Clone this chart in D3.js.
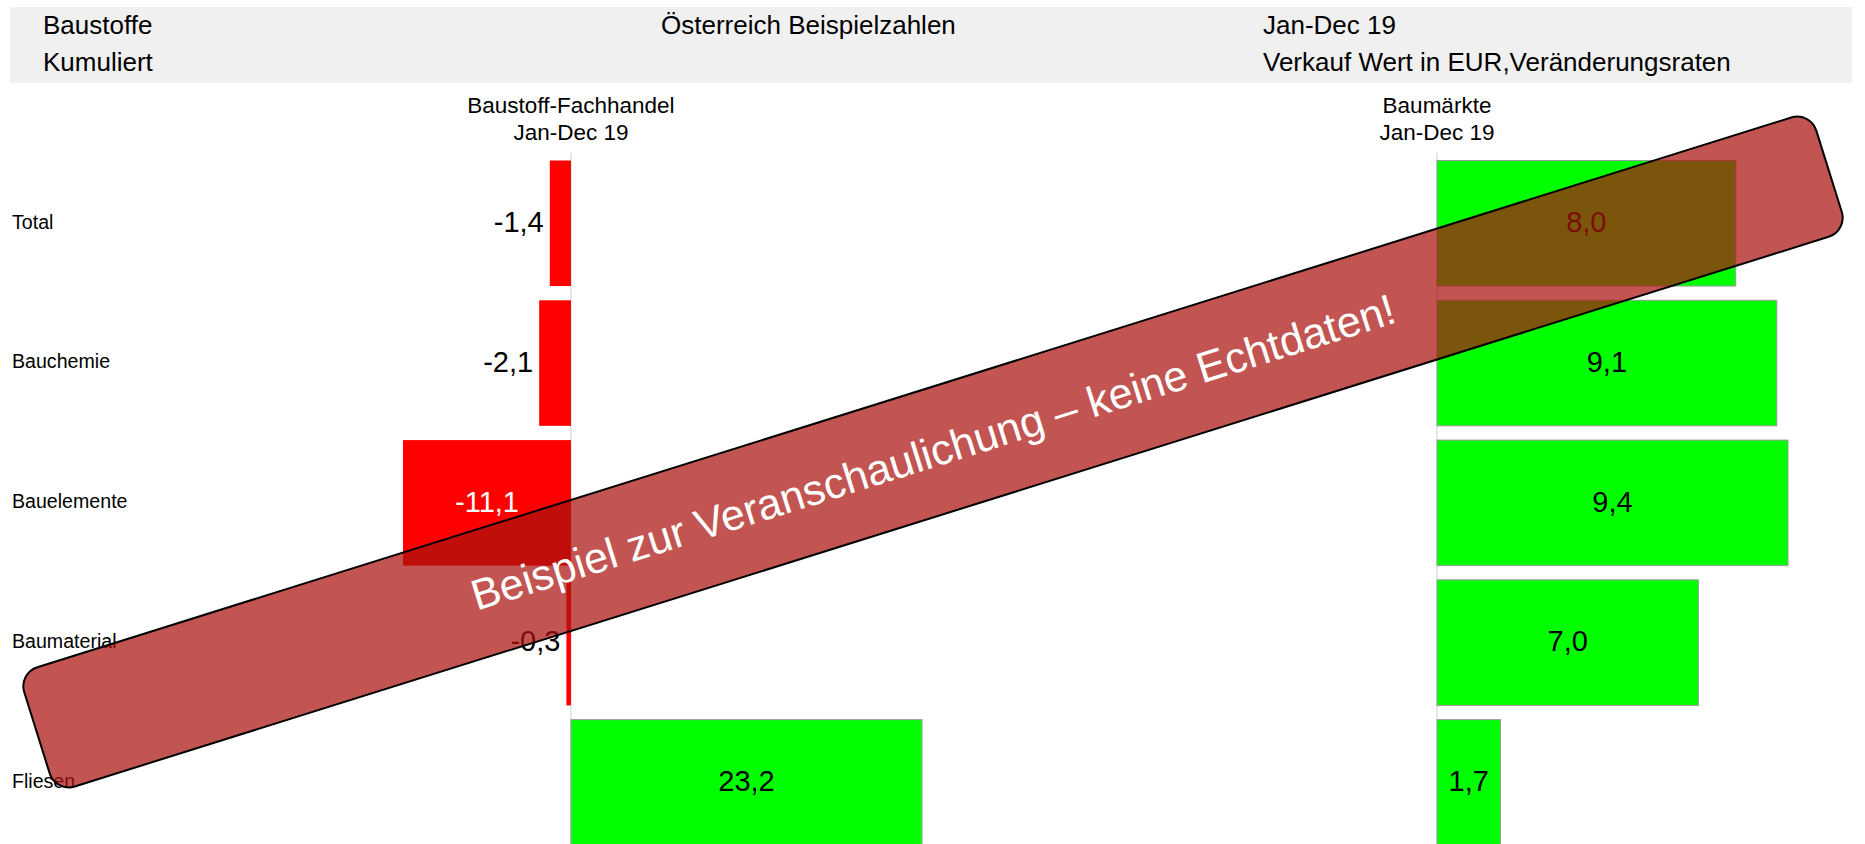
<!DOCTYPE html>
<html>
<head>
<meta charset="utf-8">
<title>Baustoffe Kumuliert</title>
<script src="https://cdn.jsdelivr.net/npm/d3@7"></script>
<style>
  body { margin: 0; background: #fff; }
  svg { display: block; font-family: "Liberation Sans", Arial, sans-serif; }
</style>
</head>
<body>
<div id="container"></div>
<script>
// categories and values (change rates in %)
const categories = ["Total", "Bauchemie", "Bauelemente", "Baumaterial", "Fliesen"];
const fachhandel = [-1.4, -2.1, -11.1, -0.3, 23.2];
const baumaerkte = [8.0, 9.1, 9.4, 7.0, 1.7];
const panelTitles = ["Baustoff-Fachhandel", "Baumärkte"];
const periodLabel = "Jan-Dec 19";

const headerLeft = ["Baustoffe", "Kumuliert"];
const headerMid = "Österreich Beispielzahlen";
const headerRight = ["Jan-Dec 19", "Verkauf Wert in EUR,Veränderungsraten"];
const watermark = "Beispiel zur Veranschaulichung – keine Echtdaten!";

const width = 1865, height = 844;

const locale = d3.formatLocale({ decimal: ",", thousands: ".", grouping: [3], currency: ["", " €"], minus: "-" });
const fmt = locale.format(".1f");

const svg = d3.select("#container")
    .append("svg")
    .attr("width", width)
    .attr("height", height);

// header band
svg.append("rect")
    .attr("x", 10).attr("y", 7)
    .attr("width", 1842).attr("height", 76)
    .attr("fill", "#f0f0f0");

const header = svg.append("g").attr("font-size", 26).attr("fill", "#000");
header.selectAll("text.hl")
    .data(headerLeft)
    .enter().append("text")
    .attr("class", "hl")
    .attr("x", 43)
    .attr("y", (d, i) => 34 + i * 37)
    .text(d => d);
header.append("text")
    .attr("x", 661).attr("y", 34)
    .text(headerMid);
header.selectAll("text.hr")
    .data(headerRight)
    .enter().append("text")
    .attr("class", "hr")
    .attr("x", 1263)
    .attr("y", (d, i) => 34 + i * 37)
    .text(d => d);

// scales
const y = d3.scaleBand()
    .domain(categories)
    .range([160.5, 845.2])
    .paddingInner(0.102)
    .paddingOuter(0);

const xLeft = d3.scaleLinear()
    .domain(d3.extent(fachhandel))
    .range([403, 922]);

const xRight = d3.scaleLinear()
    .domain([0, d3.max(baumaerkte)])
    .range([1437, 1788]);

// row labels
svg.append("g")
    .selectAll("text")
    .data(categories)
    .enter().append("text")
    .attr("x", 12)
    .attr("y", d => y(d) + y.bandwidth() / 2)
    .attr("dy", "0.27em")
    .attr("font-size", 19.6)
    .text(d => d);

function drawPanel(values, x, title) {
    const g = svg.append("g");
    const x0 = x(0);

    // panel title
    g.selectAll("text.title")
        .data([title, periodLabel])
        .enter().append("text")
        .attr("class", "title")
        .attr("x", x0)
        .attr("y", (d, i) => 113 + i * 27)
        .attr("text-anchor", "middle")
        .attr("font-size", 22.5)
        .text(d => d);

    // zero line
    g.append("line")
        .attr("x1", x0).attr("x2", x0)
        .attr("y1", 153).attr("y2", height)
        .attr("stroke", "#cfcfcf")
        .attr("stroke-width", 1);

    const rows = values.map((v, i) => ({ cat: categories[i], value: v }));

    g.selectAll("rect.bar")
        .data(rows)
        .enter().append("rect")
        .attr("class", "bar")
        .attr("x", d => Math.min(x(d.value), x0))
        .attr("y", d => y(d.cat))
        .attr("width", d => Math.abs(x(d.value) - x0))
        .attr("height", y.bandwidth())
        .attr("fill", d => d.value < 0 ? "#ff0000" : "#00ff00")
        .attr("stroke", d => d.value < 0 ? "none" : "#9a9a9a")
        .attr("stroke-width", 1);

    const labels = g.selectAll("text.val")
        .data(rows)
        .enter().append("text")
        .attr("class", "val")
        .attr("y", d => y(d.cat) + y.bandwidth() / 2)
        .attr("dy", "0.3em")
        .attr("font-size", 29)
        .text(d => fmt(d.value));

    labels.each(function (d) {
        const t = d3.select(this);
        const tw = this.getComputedTextLength();
        const bw = Math.abs(x(d.value) - x0);
        if (tw + 4 < bw) {
            t.attr("x", (x(d.value) + x0) / 2)
                .attr("text-anchor", "middle")
                .attr("fill", d.value < 0 ? "#fff" : "#000");
        } else if (d.value < 0) {
            t.attr("x", x(d.value) - 6)
                .attr("text-anchor", "end")
                .attr("fill", "#000");
        } else {
            t.attr("x", x(d.value) + 6)
                .attr("text-anchor", "start")
                .attr("fill", "#000");
        }
    });
}

drawPanel(fachhandel, xLeft, panelTitles[0]);
drawPanel(baumaerkte, xRight, panelTitles[1]);

// watermark banner
const wm = svg.append("g")
    .attr("transform", "translate(933,452) rotate(-17.4)");
wm.append("rect")
    .attr("x", -939).attr("y", -62.5)
    .attr("width", 1878).attr("height", 125)
    .attr("rx", 20).attr("ry", 20)
    .attr("fill", "rgb(170,20,15)")
    .attr("fill-opacity", 0.72)
    .attr("stroke", "#000")
    .attr("stroke-width", 2);
wm.append("text")
    .attr("x", 0).attr("y", 0)
    .attr("dy", "0.35em")
    .attr("text-anchor", "middle")
    .attr("font-size", 43)
    .attr("fill", "#fff")
    .text(watermark);
</script>
</body>
</html>
